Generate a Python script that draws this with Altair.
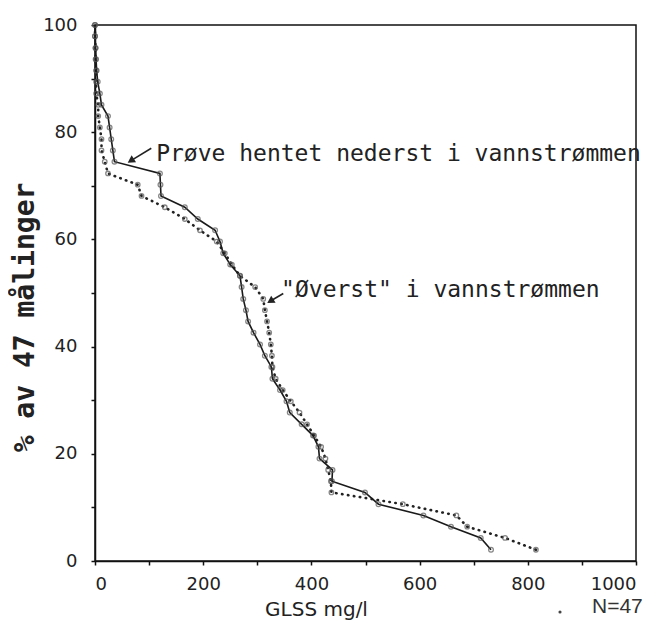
import altair as alt
import pandas as pd

# ---- data ----
pct = [2.1, 4.3, 6.4, 8.5, 10.6, 12.8, 14.9, 17.0, 19.1, 21.3, 23.4, 25.5, 27.7, 29.8,
       31.9, 34.0, 36.2, 38.3, 40.4, 42.6, 44.7, 46.8, 48.9, 51.1, 53.2, 55.3, 57.4,
       59.6, 61.7, 63.8, 66.0, 68.1, 70.2, 72.3, 74.5, 76.6, 78.7, 80.9, 83.0, 85.1,
       87.2, 89.4, 91.5, 93.6, 95.7, 97.9, 100.0]
bottom_glss = [732, 713, 658, 607, 524, 499, 438, 439, 415, 413, 403, 382, 360, 354, 342,
               328, 326, 314, 305, 293, 283, 279, 274, 271, 268, 250, 237, 231, 222, 190,
               166, 122, 121, 120, 36, 33, 30, 27, 24, 12, 9, 5, 3, 2, 1, 0, 0]
top_glss = [815, 758, 688, 668, 569, 437, 436, 431, 426, 418, 405, 392, 378, 362, 347,
            334, 328, 327, 325, 322, 318, 314, 311, 296, 268, 253, 240, 225, 194, 166,
            129, 86, 79, 24, 18, 12, 12, 9, 6, 6, 2, 2, 2, 1, 1, 0, 0]

x_ticks = [0, 100, 200, 300, 400, 500, 600, 700, 800, 900, 1000]
y_ticks = [0, 10, 20, 30, 40, 50, 60, 70, 80, 90, 100]

# annotations (data units)
ann_text = ["Prøve hentet nederst i vannstrømmen", "\"Øverst\" i vannstrømmen"]
ann_x = [113, 344]
ann_y = [75.9, 50.6]
arrow_x0 = [104, 348]
arrow_y0 = [77.0, 49.9]
arrow_x1 = [68, 326]
arrow_y1 = [74.8, 48.6]
head_x = [68, 326]
head_y = [74.8, 48.6]

df_bottom = pd.DataFrame({"glss": bottom_glss, "pct": pct})
df_top = pd.DataFrame({"glss": top_glss, "pct": pct})
df_ann = pd.DataFrame({"x": ann_x, "y": ann_y, "t": ann_text})
df_arrow = pd.DataFrame({"x0": arrow_x0, "y0": arrow_y0, "x1": arrow_x1, "y1": arrow_y1,
                         "hx": head_x, "hy": head_y})

xscale = alt.Scale(domain=[0, 1000], nice=False, zero=False)
yscale = alt.Scale(domain=[0, 100], nice=False, zero=False)

xaxis = alt.Axis(values=x_ticks, labelExpr="datum.value % 200 == 0 ? datum.label : ''",
                 format="d", grid=False, tickSize=4, labelPadding=10,
                 domainColor="#111", domainWidth=1.5, tickColor="#111", tickWidth=1.5,
                 labelFont="DejaVu Sans", labelFontSize=18, labelColor="#222",
                 title="GLSS mg/l", titleFont="DejaVu Sans", titleFontSize=20,
                 titleFontWeight="normal", titleColor="#222",
                 titleX=221, titleY=48, titleBaseline="middle", titleAlign="center")
yaxis = alt.Axis(values=y_ticks, labelExpr="datum.value % 20 == 0 ? datum.label : ''",
                 format="d", grid=False, tickSize=4, labelPadding=14,
                 domainColor="#111", domainWidth=1.5, tickColor="#111", tickWidth=1.5,
                 labelFont="DejaVu Sans", labelFontSize=18, labelColor="#222",
                 title="% av 47 målinger", titleFont="DejaVu Sans Mono", titleFontSize=28,
                 titleFontWeight="bold", titleColor="#222", titleAngle=270,
                 titleX=-70, titleY=292, titleBaseline="middle", titleAlign="center")

line_b = alt.Chart(df_bottom).mark_line(color="#1a1a1a", strokeWidth=1.6).encode(
    x=alt.X("glss:Q", scale=xscale, axis=xaxis),
    y=alt.Y("pct:Q", scale=yscale, axis=yaxis),
    order="pct:Q",
)
pts_b = alt.Chart(df_bottom).mark_point(filled=False, size=22, strokeWidth=1.3,
                                         color="#555").encode(
    x=alt.X("glss:Q", scale=xscale), y=alt.Y("pct:Q", scale=yscale))

line_t = alt.Chart(df_top).mark_line(color="#222", strokeWidth=2.6, strokeDash=[0.5, 5.5],
                                      strokeCap="round").encode(
    x=alt.X("glss:Q", scale=xscale), y=alt.Y("pct:Q", scale=yscale), order="pct:Q")
pts_t = alt.Chart(df_top).mark_point(filled=False, size=20, strokeWidth=1.3,
                                      color="#555").encode(
    x=alt.X("glss:Q", scale=xscale), y=alt.Y("pct:Q", scale=yscale))

ann = alt.Chart(df_ann).mark_text(align="left", baseline="middle", font="DejaVu Sans Mono",
                                   fontSize=23, color="#222").encode(
    x=alt.X("x:Q", scale=xscale), y=alt.Y("y:Q", scale=yscale), text="t:N")

shaft = alt.Chart(df_arrow).mark_rule(color="#222", strokeWidth=1.6).encode(
    x=alt.X("x0:Q", scale=xscale), y=alt.Y("y0:Q", scale=yscale),
    x2="x1:Q", y2="y1:Q")
head = alt.Chart(df_arrow).mark_point(shape="triangle", filled=True, size=70, angle=238,
                                       color="#222", opacity=1).encode(
    x=alt.X("hx:Q", scale=xscale), y=alt.Y("hy:Q", scale=yscale))

n_text = alt.Chart(pd.DataFrame({"t": ["N=47"]})).mark_text(
    align="left", baseline="alphabetic", font="Liberation Sans", fontSize=21,
    color="#333").encode(x=alt.value(497), y=alt.value(588), text="t:N")
n_dot = alt.Chart(pd.DataFrame({"t": ["."]})).mark_point(
    filled=True, size=10, color="#444", opacity=1).encode(x=alt.value(465), y=alt.value(587))

chart = alt.layer(line_t, pts_t, line_b, pts_b, shaft, head, ann, n_text, n_dot).properties(
    width=541, height=536,
    autosize=alt.AutoSizeParams(type="none"),
    padding={"left": 87, "top": 17, "right": 24, "bottom": 59},
    background="white",
).configure_view(stroke="#111", strokeWidth=1.5)

chart.save("out.html", embed_options={"renderer": "svg", "actions": False})
